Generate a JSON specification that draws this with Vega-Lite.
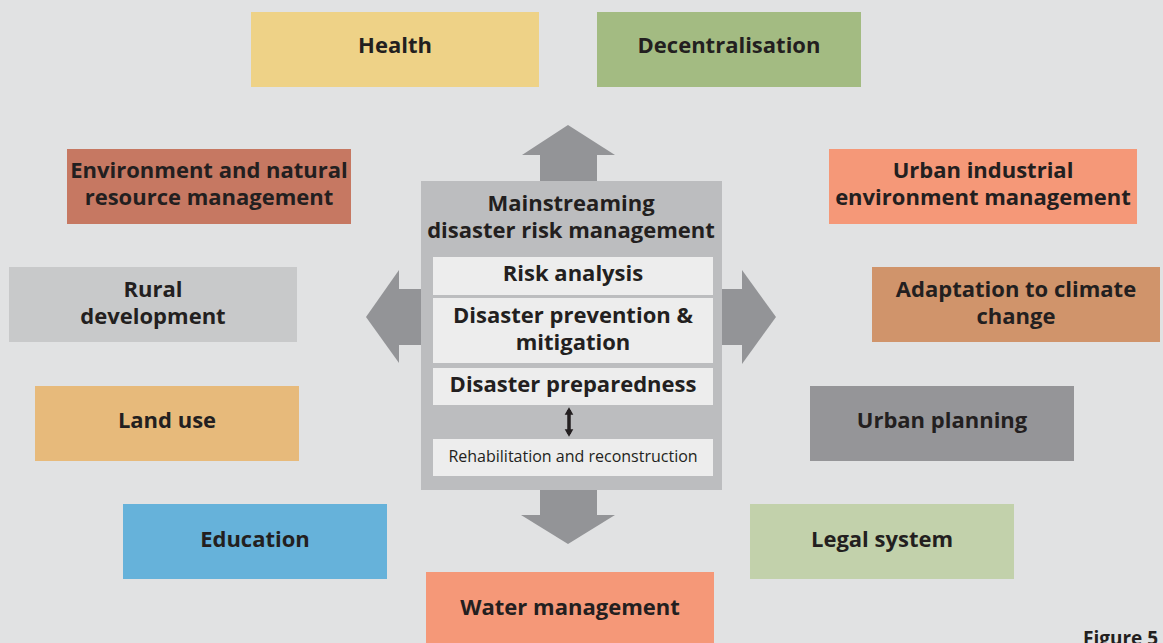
{
  "$schema": "https://vega.github.io/schema/vega-lite/v6.json",
  "width": 1163,
  "height": 643,
  "autosize": {"type": "none"},
  "padding": 0,
  "background": "#e1e2e3",
  "view": {"stroke": null},
  "config": {"text": {"font": "Open Sans"}},
  "datasets": {
    "boxes": [
      {"box": "shaft up", "x": 540, "x2": 597, "y": 154, "y2": 182},
      {"box": "shaft down", "x": 540, "x2": 597, "y": 489, "y2": 516},
      {"box": "shaft left", "x": 398, "x2": 422, "y": 289, "y2": 345},
      {"box": "shaft right", "x": 721, "x2": 743, "y": 289, "y2": 345},
      {"box": "Health", "x": 251, "x2": 539, "y": 12, "y2": 87},
      {"box": "Decentralisation", "x": 597, "x2": 861, "y": 12, "y2": 87},
      {"box": "Environment", "x": 67, "x2": 351, "y": 149, "y2": 224},
      {"box": "Urban industrial", "x": 829, "x2": 1137, "y": 149, "y2": 224},
      {"box": "Rural", "x": 9, "x2": 297, "y": 267, "y2": 342},
      {"box": "Adaptation", "x": 872, "x2": 1160, "y": 267, "y2": 342},
      {"box": "Land use", "x": 35, "x2": 299, "y": 386, "y2": 461},
      {"box": "Urban planning", "x": 810, "x2": 1074, "y": 386, "y2": 461},
      {"box": "Education", "x": 123, "x2": 387, "y": 504, "y2": 579},
      {"box": "Legal system", "x": 750, "x2": 1014, "y": 504, "y2": 579},
      {"box": "Water management", "x": 426, "x2": 714, "y": 572, "y2": 643},
      {"box": "Mainstreaming", "x": 421, "x2": 722, "y": 181, "y2": 490},
      {"box": "Risk analysis", "x": 433, "x2": 713, "y": 257, "y2": 295},
      {"box": "Prevention", "x": 433, "x2": 713, "y": 298, "y2": 363},
      {"box": "Preparedness", "x": 433, "x2": 713, "y": 368, "y2": 405},
      {"box": "Rehabilitation", "x": 433, "x2": 713, "y": 439, "y2": 476}
    ],
    "headsV": [
      {"arrow": "up", "x": 522, "y": 155, "y2": 155},
      {"arrow": "up", "x": 568, "y": 125, "y2": 155},
      {"arrow": "up", "x": 615, "y": 155, "y2": 155},
      {"arrow": "down", "x": 521, "y": 515, "y2": 515},
      {"arrow": "down", "x": 568, "y": 544, "y2": 515},
      {"arrow": "down", "x": 615, "y": 515, "y2": 515}
    ],
    "headsH": [
      {"arrow": "left", "y": 270, "x": 399, "x2": 399},
      {"arrow": "left", "y": 317, "x": 366, "x2": 399},
      {"arrow": "left", "y": 363, "x": 399, "x2": 399},
      {"arrow": "right", "y": 270, "x": 742, "x2": 742},
      {"arrow": "right", "y": 317, "x": 776, "x2": 742},
      {"arrow": "right", "y": 364, "x": 742, "x2": 742}
    ],
    "labels": [
      {"label": "Health", "x": 395, "y": 46},
      {"label": "Decentralisation", "x": 729, "y": 46},
      {"label": "Environment and natural\nresource management", "x": 209, "y": 171},
      {"label": "Urban industrial\nenvironment management", "x": 983, "y": 171},
      {"label": "Rural\ndevelopment", "x": 153, "y": 290},
      {"label": "Adaptation to climate\nchange", "x": 1016, "y": 290},
      {"label": "Land use", "x": 167, "y": 421},
      {"label": "Urban planning", "x": 942, "y": 421},
      {"label": "Education", "x": 255, "y": 540},
      {"label": "Legal system", "x": 882, "y": 540},
      {"label": "Water management", "x": 570, "y": 608},
      {"label": "Mainstreaming\ndisaster risk management", "x": 571, "y": 204},
      {"label": "Risk analysis", "x": 573, "y": 274},
      {"label": "Disaster prevention &\nmitigation", "x": 573, "y": 316},
      {"label": "Disaster preparedness", "x": 573, "y": 385}
    ],
    "small": [
      {"label": "Rehabilitation and reconstruction", "x": 573, "y": 457}
    ],
    "dbl": [
      {"x": 569, "y": 410, "y2": 434}
    ],
    "dblHeads": [
      {"end": "top", "x": 569, "y": 411},
      {"end": "bottom", "x": 569, "y": 433}
    ],
    "caption": [
      {"label": "Figure 5", "x": 1083, "y": 639}
    ]
  },
  "layer": [
    {
      "data": {"name": "boxes"},
      "mark": {"type": "rect"},
      "encoding": {
        "x": {"field": "x", "type": "quantitative", "scale": {"domain": [0, 1163], "nice": false, "zero": false}, "axis": null},
        "x2": {"field": "x2"},
        "y": {"field": "y", "type": "quantitative", "scale": {"domain": [0, 643], "nice": false, "zero": false, "reverse": true}, "axis": null},
        "y2": {"field": "y2"},
        "color": {
          "field": "box", "type": "nominal", "legend": null, "sort": null,
          "scale": {
            "domain": ["shaft up", "shaft down", "shaft left", "shaft right", "Health", "Decentralisation", "Environment", "Urban industrial", "Rural", "Adaptation", "Land use", "Urban planning", "Education", "Legal system", "Water management", "Mainstreaming", "Risk analysis", "Prevention", "Preparedness", "Rehabilitation"],
            "range": ["#939497", "#939497", "#939497", "#939497", "#eed287", "#a3bb82", "#c67862", "#f59878", "#c8c9ca", "#d0946b", "#e7ba7b", "#959598", "#66b2da", "#c2d1ab", "#f59878", "#bcbdbf", "#ededed", "#ededed", "#ededed", "#ededed"]
          }
        }
      }
    },
    {
      "data": {"name": "headsV"},
      "mark": {"type": "area", "orient": "vertical", "color": "#939497", "interpolate": "linear"},
      "encoding": {
        "x": {"field": "x", "type": "quantitative"},
        "y": {"field": "y", "type": "quantitative", "stack": null},
        "y2": {"field": "y2"},
        "detail": {"field": "arrow", "type": "nominal"}
      }
    },
    {
      "data": {"name": "headsH"},
      "mark": {"type": "area", "orient": "horizontal", "color": "#939497", "interpolate": "linear"},
      "encoding": {
        "y": {"field": "y", "type": "quantitative"},
        "x": {"field": "x", "type": "quantitative", "stack": null},
        "x2": {"field": "x2"},
        "detail": {"field": "arrow", "type": "nominal"}
      }
    },
    {
      "data": {"name": "dbl"},
      "mark": {"type": "rule", "color": "#231f20", "strokeWidth": 3.5},
      "encoding": {
        "x": {"field": "x", "type": "quantitative"},
        "y": {"field": "y", "type": "quantitative"},
        "y2": {"field": "y2"}
      }
    },
    {
      "data": {"name": "dblHeads"},
      "mark": {"type": "point", "filled": true, "color": "#231f20", "size": 75, "opacity": 1},
      "encoding": {
        "x": {"field": "x", "type": "quantitative"},
        "y": {"field": "y", "type": "quantitative"},
        "shape": {"field": "end", "type": "nominal", "legend": null, "scale": {"domain": ["top", "bottom"], "range": ["triangle-up", "triangle-down"]}}
      }
    },
    {
      "data": {"name": "labels"},
      "mark": {"type": "text", "fontWeight": "bold", "fontSize": 22, "lineHeight": 27, "lineBreak": "\n", "align": "center", "baseline": "middle", "color": "#231f20"},
      "encoding": {
        "x": {"field": "x", "type": "quantitative"},
        "y": {"field": "y", "type": "quantitative"},
        "text": {"field": "label", "type": "nominal"}
      }
    },
    {
      "data": {"name": "small"},
      "mark": {"type": "text", "fontSize": 16, "align": "center", "baseline": "middle", "color": "#231f20", "letterSpacing": -0.3},
      "encoding": {
        "x": {"field": "x", "type": "quantitative"},
        "y": {"field": "y", "type": "quantitative"},
        "text": {"field": "label", "type": "nominal"}
      }
    },
    {
      "data": {"name": "caption"},
      "mark": {"type": "text", "fontWeight": "bold", "fontSize": 19, "align": "left", "baseline": "middle", "color": "#231f20"},
      "encoding": {
        "x": {"field": "x", "type": "quantitative"},
        "y": {"field": "y", "type": "quantitative"},
        "text": {"field": "label", "type": "nominal"}
      }
    }
  ]
}
